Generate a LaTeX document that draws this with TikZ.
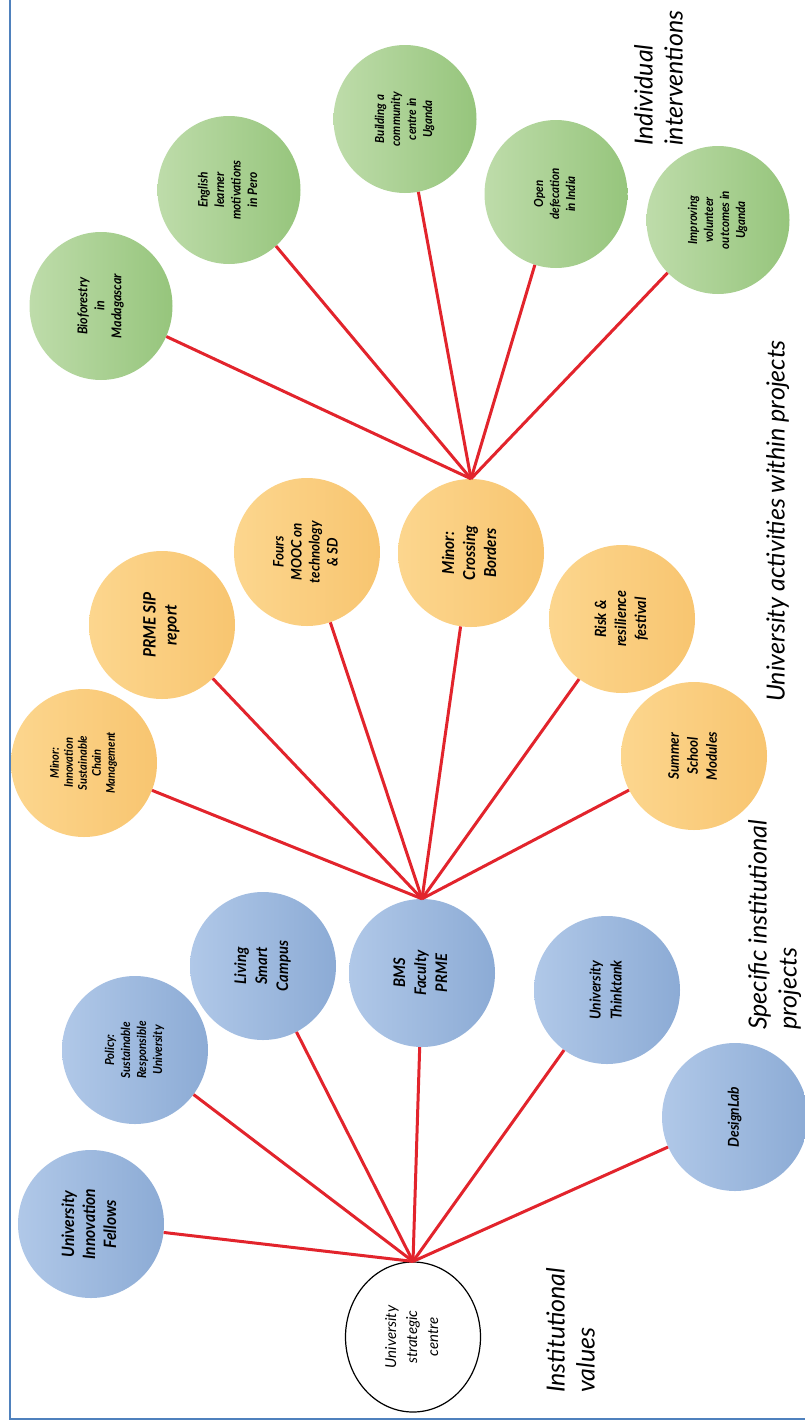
\documentclass[tikz,border=0pt]{standalone}
\usepackage{fontspec}
\setmainfont{Lato}
\usetikzlibrary{shapes.geometric}
\definecolor{bluL}{RGB}{176,200,232}
\definecolor{bluD}{RGB}{140,171,213}
\definecolor{grnL}{RGB}{190,220,170}
\definecolor{grnD}{RGB}{150,197,124}
\definecolor{orgL}{RGB}{252,214,142}
\definecolor{orgD}{RGB}{248,197,112}
\definecolor{lnred}{RGB}{226,36,44}
\definecolor{framec}{RGB}{79,129,189}
\newcommand{\rtxt}[3]{\rotatebox{90}{\scalebox{0.92}[1]{\fontsize{#1}{#2}\selectfont\bfseries\itshape\begin{tabular}{@{}c@{}}#3\end{tabular}}}}
\newcommand{\rtxr}[3]{\rotatebox{90}{\fontsize{#1}{#2}\selectfont\itshape\begin{tabular}{@{}c@{}}#3\end{tabular}}}
\tikzset{
  bub/.style={ellipse, draw=none, inner sep=0pt, minimum width=146pt, minimum height=148pt},
  blu/.style={bub, left color=bluL, right color=bluD},
  org/.style={bub, left color=orgL, right color=orgD},
  grn/.style={bub, minimum width=143pt, minimum height=148pt, left color=grnL, right color=grnD},
  ctr/.style={ellipse, draw=black, line width=1.2pt, fill=white, inner sep=0pt, minimum width=135pt, minimum height=150pt},
  link/.style={draw=lnred, line width=3pt},
  lab/.style={rotate=90, anchor=north west, align=left, inner sep=0pt, font=\fontsize{25}{30}\selectfont\itshape},
  framel/.style={draw=framec, line width=2.5pt}
}
\begin{document}
\begin{tikzpicture}[x=1pt,y=-1pt]
\useasboundingbox (0,0) rectangle (805,1424);
\draw[framel] (10,0) -- (10,1419) -- (805,1419);
% centre
\node[ctr] (cen) at (413,1337) {\rtxr{15}{21}{University\\strategic\\centre}};
% blue
\node[blu] (uif) at (91,1224) {\rtxt{17}{21}{University\\Innovation\\Fellows}};
\node[blu] (pol) at (135,1050) {\rtxt{12.5}{16}{Policy:\\Sustainable\\Responsible\\University}};
\node[blu] (liv) at (263,966) {\rtxt{16}{21}{Living\\Smart\\Campus}};
\node[blu] (bms) at (422,973) {\rtxt{16}{21}{BMS\\Faculty\\PRME}};
\node[blu] (thk) at (607,990) {\rtxt{15}{21}{University\\Thinktank}};
\node[blu] (dsl) at (735,1117) {\rtxt{15}{19}{DesignLab}};
% orange
\node[org] (mi) at (84,763) {\rtxt{12}{14}{Minor:\\Innovation\\Sustainable\\Chain\\Management}};
\node[org] (prm) at (162,625) {\rtxt{17}{21}{PRME SIP\\report}};
\node[org] (moc) at (307,552) {\rtxt{14.5}{18}{Fours\\MOOC on\\technology\\\& SD}};
\node[org] (crs) at (471,553) {\rtxt{16.5}{21}{Minor:\\Crossing\\Borders}};
\node[org] (rsk) at (622,619) {\rtxt{15.5}{20}{Risk \&\\resilience\\festival}};
\node[org] (sum) at (694,756) {\rtxt{14.5}{19}{Summer\\School\\Modules}};
% green
\node[grn] (bio) at (101,306) {\rtxt{13.5}{17}{Bioforestry\\in\\Madagascar}};
\node[grn] (eng) at (229,190) {\rtxt{13}{16.5}{English\\learner\\motivations\\in Pero}};
\node[grn] (bld) at (405,119) {\rtxt{12.5}{16}{Building a\\community\\centre in\\Uganda}};
\node[grn] (opn) at (556,194) {\rtxt{12.5}{16}{Open\\defecation\\in India}};
\node[grn] (imp) at (718,220) {\rtxt{12.5}{16}{Improving\\volunteer\\outcomes in\\Uganda}};
% hubs
\coordinate (hubA) at (cen.north);
\coordinate (hubB) at (bms.north);
\coordinate (hubC) at (crs.north);
\foreach \n in {uif,pol,liv,bms,thk,dsl} \draw[link] (hubA) -- (\n);
\foreach \n in {mi,prm,moc,crs,rsk,sum} \draw[link] (hubB) -- (\n);
\foreach \n in {bio,eng,bld,opn,imp} \draw[link] (hubC) -- (\n);
% labels
\node[lab] (l1) at (634,146) {Individual\\interventions};
\node[lab] (l2) at (766,702) {University activities within projects};
\node[lab] (l3) at (748,1030) {Specific institutional\\projects};
\node[lab] (l4) at (546,1393) {Institutional\\values};
\end{tikzpicture}
\end{document}
